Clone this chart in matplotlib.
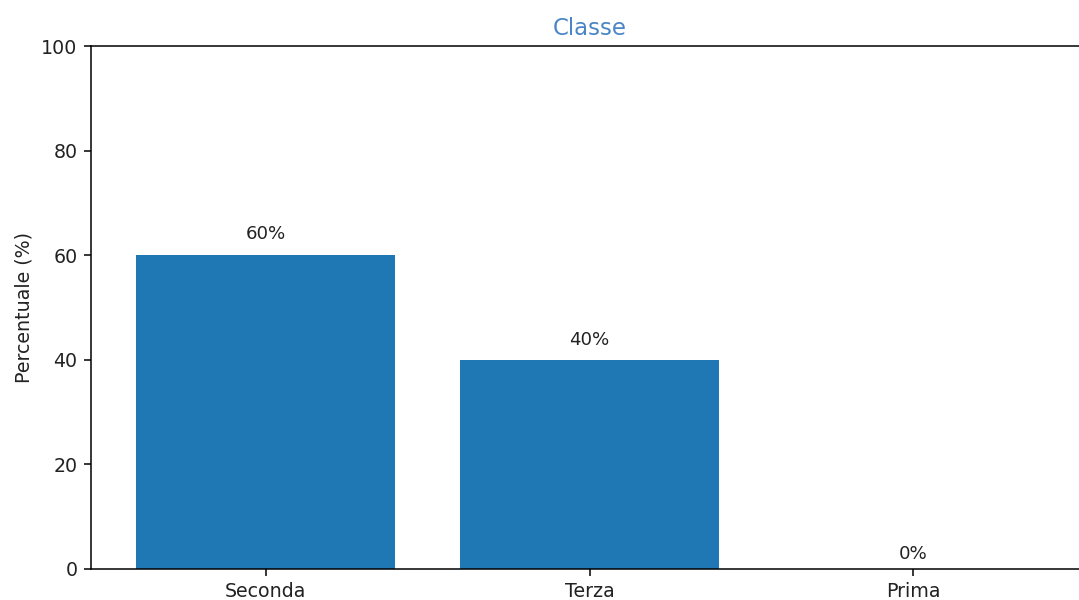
import matplotlib
matplotlib.use("Agg")
import matplotlib.pyplot as plt

categories = ["Seconda", "Terza", "Prima"]
percentages = [60, 40, 0]

DPI = 137
plt.rcParams["text.color"] = "#222222"
plt.rcParams["xtick.labelcolor"] = "#222222"
plt.rcParams["ytick.labelcolor"] = "#222222"

fig = plt.figure(figsize=(1079 / DPI, 600 / DPI), dpi=DPI)
ax = fig.add_axes([91 / 1079, 31 / 600, 997 / 1079, 523 / 600])

bars = ax.bar(categories, percentages, color="#1f77b4")
for i, v in enumerate(percentages):
    ax.text(i, v * 1.02 + 1.2, f"{v}%", ha="center", va="bottom",
            fontsize=9.5)
ax.set_ylim(0, 100)
ax.set_ylabel("Percentuale (%)", fontsize=10, color="#222222")
ax.set_title("Classe", color="#4a86c5")

fig.savefig("out.png", dpi=DPI)
